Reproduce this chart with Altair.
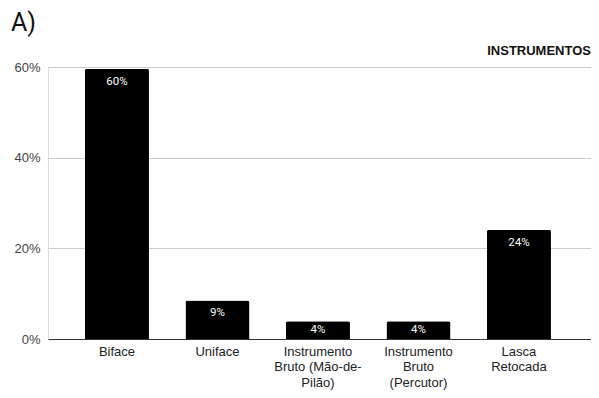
import altair as alt
import pandas as pd

categories = ["Biface", "Uniface", "Instrumento\nBruto (Mão-de-\nPilão)", "Instrumento\nBruto\n(Percutor)", "Lasca\nRetocada"]
values = [59.6, 8.5, 3.9, 3.9, 24.1]
labels = ["60%", "9%", "4%", "4%", "24%"]
y_ticks = [0, 20, 40, 60]

df = pd.DataFrame({"cat": categories, "val": values, "lab": labels})

xs = alt.X("cat:N", sort=categories, title=None,
           scale=alt.Scale(paddingInner=0.363, paddingOuter=0.383, align=0.48),
           axis=alt.Axis(labelAngle=0, labelExpr="split(datum.label, '\\n')",
                         labelFont="Liberation Sans", labelFontSize=13, labelColor="#222222",
                         labelLineHeight=15.5, labelPadding=6, labelLimit=300,
                         ticks=False, domainColor="#333333", domainWidth=1, grid=False))
ys = alt.Y("val:Q", title=None,
           scale=alt.Scale(domain=[0, 60], nice=False),
           axis=alt.Axis(values=y_ticks, labelExpr="datum.value + '%'",
                         labelFont="Liberation Sans", labelFontSize=13, labelColor="#444444",
                         labelPadding=8, ticks=False, domain=False,
                         gridColor="#cccccc", gridWidth=1))

base = alt.Chart(df)
bars = base.mark_bar(color="#000000", cornerRadiusTopLeft=2, cornerRadiusTopRight=2).encode(x=xs, y=ys)

txt = base.transform_calculate(
    ly="max(datum.val - 2.85, datum.val / 2)"
).mark_text(color="#ffffff", font="Roboto", fontSize=11.5, baseline="middle").encode(
    x=alt.X("cat:N", sort=categories),
    y=alt.Y("ly:Q"),
    text="lab:N",
)

title_a = alt.Chart(pd.DataFrame({"t": ["A)"]})).mark_text(
    font="Roboto", fontSize=25, align="left", baseline="alphabetic", color="#111111"
).encode(x=alt.value(-37), y=alt.value(-36), text="t:N")

title_r = alt.Chart(pd.DataFrame({"t": ["INSTRUMENTOS"]})).mark_text(
    font="Liberation Sans", fontSize=13, fontWeight="bold", align="right", baseline="alphabetic", color="#111111"
).encode(x=alt.value(543), y=alt.value(-12), text="t:N")

chart = alt.layer(bars, txt, title_a, title_r).properties(
    width=543, height=272,
    autosize=alt.AutoSizeParams(type="none"),
    padding={"left": 40, "top": 59, "right": 0, "bottom": 51},
).configure_view(stroke=None).configure(background="#ffffff")

chart.save("out.html", embed_options={"renderer": "svg", "actions": False})
